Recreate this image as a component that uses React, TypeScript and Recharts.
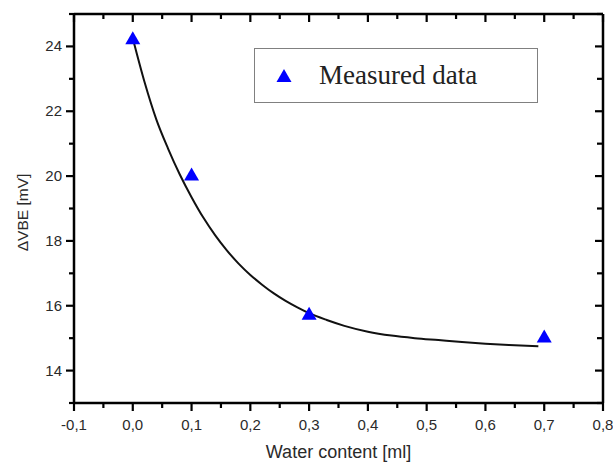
import React from 'react';
import { ComposedChart, Line, Scatter, XAxis, YAxis, Legend } from 'recharts';

// measured points
const waterContent = [0.0, 0.1, 0.3, 0.7];
const deltaVbe = [24.25, 20.05, 15.75, 15.05];

// fitted curve
const fitX = [0, 0.02, 0.04, 0.06, 0.08, 0.1, 0.12, 0.14, 0.16, 0.18, 0.2, 0.22, 0.24, 0.26, 0.28, 0.3, 0.33, 0.36, 0.4, 0.44, 0.48, 0.52, 0.56, 0.6, 0.64, 0.69];
const fitY = [24.25, 22.9, 21.75, 20.85, 20.05, 19.35, 18.72, 18.18, 17.71, 17.3, 16.95, 16.65, 16.38, 16.15, 15.95, 15.77, 15.56, 15.38, 15.2, 15.08, 15.0, 14.94, 14.88, 14.83, 14.79, 14.75];

const xTicks = [-0.1, -0.05, 0, 0.05, 0.1, 0.15, 0.2, 0.25, 0.3, 0.35, 0.4, 0.45, 0.5, 0.55, 0.6, 0.65, 0.7, 0.75, 0.8];
const yTicks = [13, 14, 15, 16, 17, 18, 19, 20, 21, 22, 23, 24, 25];

const points = waterContent.map((x, i) => ({ x, y: deltaVbe[i] }));
const curve = fitX.map((x, i) => ({ x, y: fitY[i] }));

const TICK_FONT = { fontFamily: '"Liberation Sans", Arial, sans-serif', fontSize: 15, fill: '#2a2a2a' };

const isMajorX = (v: number) => Math.abs(Math.round(v * 100)) % 10 === 0;
const isMajorY = (v: number) => v % 2 === 0;
const fmtX = (v: number) => v.toFixed(1).replace('.', ',');

const BottomTick = (props: any) => {
  const { x, y, payload } = props;
  const major = isMajorX(payload.value);
  return (
    <g>
      <line x1={x} x2={x} y1={y} y2={y + (major ? 8 : 5)} stroke="#000" strokeWidth={2.2} />
      {major && (
        <text x={x} y={y + 27} textAnchor="middle" {...TICK_FONT}>
          {fmtX(payload.value)}
        </text>
      )}
    </g>
  );
};

const TopTick = (props: any) => {
  const { x, y, payload } = props;
  const major = isMajorX(payload.value);
  return <line x1={x} x2={x} y1={y} y2={y + (major ? 8 : 5)} stroke="#000" strokeWidth={2.2} />;
};

const LeftTick = (props: any) => {
  const { x, y, payload } = props;
  const major = isMajorY(payload.value);
  return (
    <g>
      <line x1={x} x2={x - (major ? 8 : 5)} y1={y} y2={y} stroke="#000" strokeWidth={2.2} />
      {major && (
        <text x={x - 12} y={y + 5} textAnchor="end" {...TICK_FONT}>
          {payload.value}
        </text>
      )}
    </g>
  );
};

const RightTick = (props: any) => {
  const { x, y, payload } = props;
  const major = isMajorY(payload.value);
  return <line x1={x} x2={x - (major ? 8 : 6)} y1={y} y2={y} stroke="#000" strokeWidth={2.2} />;
};

const Triangle = ({ cx, cy }: any) => (
  <polygon points={`${cx},${cy - 7} ${cx - 7.5},${cy + 6} ${cx + 7.5},${cy + 6}`} fill="#0000ff" />
);

const Nothing = () => <g />;

const LegendBox = () => (
  <div
    style={{
      boxSizing: 'border-box',
      width: 284,
      height: 55,
      border: '1.5px solid #808080',
      background: '#fff',
      display: 'flex',
      alignItems: 'center',
    }}
  >
    <svg width={60} height={20} style={{ marginLeft: 4 }}>
      <polygon points="25,3 17.5,16 32.5,16" fill="#0000ff" />
    </svg>
    <span style={{ fontFamily: '"Liberation Serif", "Times New Roman", serif', fontSize: 27, color: '#222' }}>
      Measured data
    </span>
  </div>
);

const axisLine = { stroke: '#000', strokeWidth: 2.5 };

export default function App() {
  return (
    <>
      <style>{`body { margin: 0; }`}</style>
      <ComposedChart width={613} height={463} margin={{ top: 13, right: 9, bottom: 0, left: 0 }}>
        <XAxis
          dataKey="x"
          type="number"
          domain={[-0.1, 0.8]}
          ticks={xTicks}
          interval={0}
          height={60}
          tickSize={0}
          tickMargin={0}
          axisLine={axisLine}
          tickLine={false}
          tick={<BottomTick />}
          label={{
            content: (p: any) => {
              const { x, y, width } = p.viewBox;
              return (
                <text
                  x={x + width / 2}
                  y={y + 55}
                  textAnchor="middle"
                  fontFamily='"Liberation Sans", Arial, sans-serif'
                  fontSize={18}
                  fill="#2a2a2a"
                >
                  Water content [ml]
                </text>
              );
            },
          }}
        />
        <XAxis
          xAxisId="top"
          orientation="top"
          dataKey="x"
          type="number"
          domain={[-0.1, 0.8]}
          ticks={xTicks}
          interval={0}
          height={1}
          tickSize={0}
          tickMargin={0}
          axisLine={axisLine}
          tickLine={false}
          tick={<TopTick />}
        />
        <YAxis
          type="number"
          domain={[13, 25]}
          ticks={yTicks}
          interval={0}
          width={74}
          tickSize={0}
          tickMargin={0}
          axisLine={axisLine}
          tickLine={false}
          tick={<LeftTick />}
          label={{
            content: (p: any) => {
              const { x, y, height } = p.viewBox;
              const cx = x + 22;
              const cy = y + height / 2 + 4;
              return (
                <text
                  x={cx}
                  y={cy}
                  transform={`rotate(-90 ${cx} ${cy})`}
                  textAnchor="middle"
                  dominantBaseline="central"
                  fontFamily='"Liberation Sans", Arial, sans-serif'
                  fontSize={15.5}
                  fill="#2a2a2a"
                >
                  ΔVBE [mV]
                </text>
              );
            },
          }}
        />
        <YAxis
          yAxisId="right"
          orientation="right"
          type="number"
          domain={[13, 25]}
          ticks={yTicks}
          interval={0}
          width={1}
          tickSize={0}
          tickMargin={0}
          axisLine={axisLine}
          tickLine={false}
          tick={<RightTick />}
        />
        <Legend
          layout="horizontal"
          verticalAlign="middle"
          align="center"
          wrapperStyle={{ position: 'absolute', left: 254, top: 48, width: 284, height: 55 }}
          content={() => <LegendBox />}
        />
        <Line
          data={curve}
          dataKey="y"
          type="monotone"
          stroke="#111"
          strokeWidth={2}
          dot={false}
          legendType="none"
          isAnimationActive={false}
        />
        <Scatter
          name="Measured data"
          data={points}
          dataKey="y"
          fill="#0000ff"
          shape={<Triangle />}
          isAnimationActive={false}
        />
        {/* invisible series so the mirrored top/right axes get drawn */}
        <Scatter
          xAxisId="top"
          yAxisId="right"
          data={points}
          dataKey="y"
          shape={<Nothing />}
          legendType="none"
          isAnimationActive={false}
        />
      </ComposedChart>
    </>
  );
}
